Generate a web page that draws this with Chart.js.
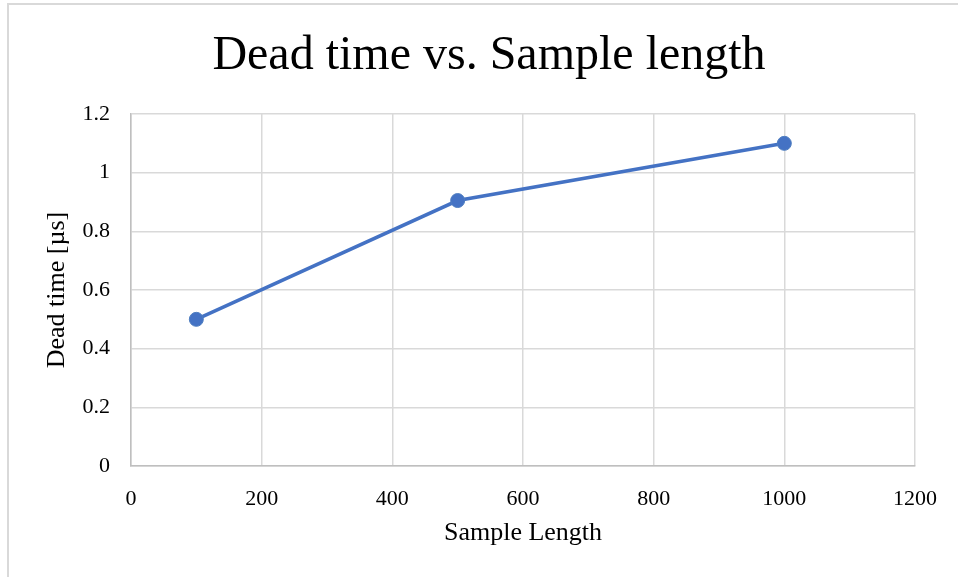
<!DOCTYPE html>
<html>
<head>
<meta charset="utf-8">
<title>Dead time vs. Sample length</title>
<script src="https://cdn.jsdelivr.net/npm/chart.js@4/dist/chart.umd.min.js"></script>
<style>
    html, body {
        margin: 0;
        padding: 0;
        background: #ffffff;
    }

    .frame {
        position: relative;
        width: 958px;
        height: 577px;
        overflow: hidden;
    }

    /* light outer border of the chart object, cut off at right/bottom */
    .frame::before {
        content: '';
        position: absolute;
        left: 7px;
        top: 3px;
        width: 1000px;
        height: 1000px;
        border-left: 2px solid #d9d9d9;
        border-top: 2px solid #d9d9d9;
    }

    canvas {
        position: absolute;
        left: 0;
        top: 0;
    }
</style>
</head>
<body>
<div class="frame">
    <canvas id="deadTimeChart" width="958" height="577"></canvas>
</div>
<script>
const sampleLengths = [100, 500, 1000];
const deadTimes = [0.5, 0.905, 1.1];

const xTickValues = [0, 200, 400, 600, 800, 1000, 1200];
const yTickValues = [0, 0.2, 0.4, 0.6, 0.8, 1, 1.2];

const serif = '"Liberation Serif", "Times New Roman", Times, serif';
const lineColor = '#4472c4';

function fixedTicks(values) {
    return (scale) => {
        scale.ticks = values.map((value) => ({ value }));
    };
}

// the title is centred on the padded box, so left padding shifts it right
new Chart(document.getElementById('deadTimeChart'), {
    type: 'scatter',
    data: {
        datasets: [{
            label: 'Dead time',
            data: sampleLengths.map((x, i) => ({ x, y: deadTimes[i] })),
            showLine: true,
            borderColor: lineColor,
            backgroundColor: lineColor,
            borderWidth: 3.5,
            pointRadius: 7,
            pointBorderWidth: 1,
            pointBorderColor: '#4f7ec0',
            pointBackgroundColor: lineColor,
            tension: 0,
        }],
    },
    options: {
        responsive: false,
        animation: false,
        layout: {
            padding: { left: 63, top: 0, right: 43, bottom: 0 },
        },
        plugins: {
            legend: { display: false },
            tooltip: { enabled: false },
            title: {
                display: true,
                text: 'Dead time vs. Sample length',
                color: '#000000',
                font: { family: serif, size: 48, weight: 'normal', lineHeight: 1.2 },
                padding: { top: 28, bottom: 28.4 },
            },
        },
        scales: {
            x: {
                type: 'linear',
                min: 0,
                max: 1200,
                afterBuildTicks: fixedTicks(xTickValues),
                afterFit: (scale) => { scale.height = 111; },
                grid: { color: '#d9d9d9', lineWidth: 1.5, drawTicks: false },
                border: { color: '#bfbfbf', width: 1.5 },
                ticks: {
                    color: '#000000',
                    padding: 20,
                    maxRotation: 0,
                    font: { family: serif, size: 22 },
                    callback: (value) => String(value),
                },
                title: {
                    display: true,
                    text: 'Sample Length',
                    color: '#000000',
                    font: { family: serif, size: 26, lineHeight: 1.2 },
                    padding: { top: 0, bottom: 28.4 },
                },
            },
            y: {
                type: 'linear',
                min: 0,
                max: 1.2,
                afterBuildTicks: fixedTicks(yTickValues),
                afterFit: (scale) => { scale.width = 68; },
                grid: { color: '#d9d9d9', lineWidth: 1.5, drawTicks: false },
                border: { color: '#bfbfbf', width: 1.5 },
                ticks: {
                    color: '#000000',
                    padding: 21,
                    font: { family: serif, size: 22 },
                    callback: (value) => String(Number(value.toFixed(1))),
                },
                title: {
                    display: true,
                    text: 'Dead time [µs]',
                    color: '#000000',
                    font: { family: serif, size: 26, lineHeight: 1.2 },
                    padding: { top: -21.6, bottom: 0 },
                },
            },
        },
    },
});
</script>
</body>
</html>
